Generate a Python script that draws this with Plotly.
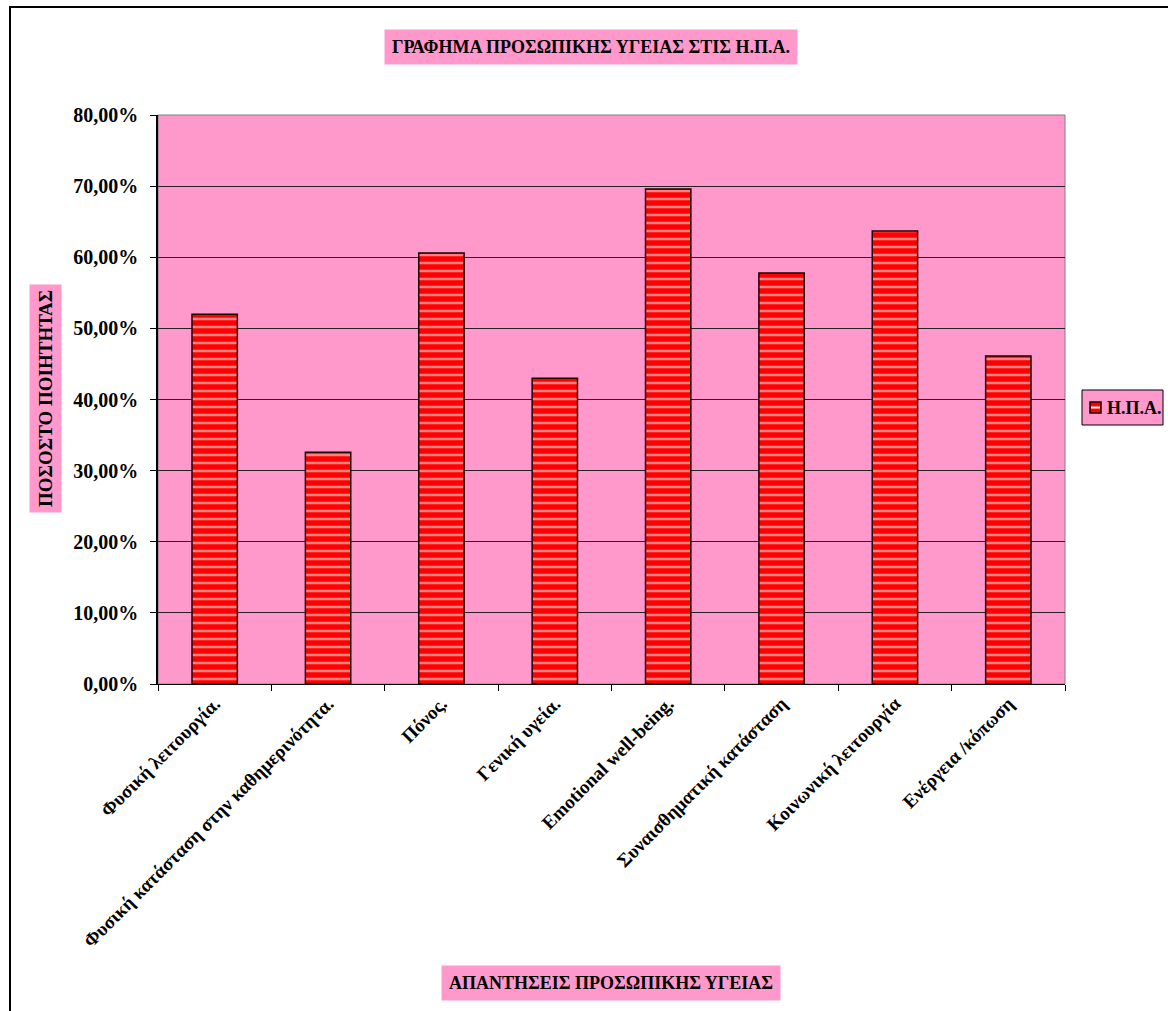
import plotly.graph_objects as go

# Personal health responses (share of quality, USA)
categories = [
    "Φυσική λειτουργία.",
    "Φυσική κατάσταση στην καθημερινότητα.",
    "Πόνος.",
    "Γενική υγεία.",
    "Emotional well-being.",
    "Συναισθηματική κατάσταση",
    "Κοινωνική λειτουργία",
    "Ενέργεια /κόπωση",
]
values = [0.520, 0.326, 0.606, 0.430, 0.696, 0.578, 0.637, 0.461]
series_name = "Η.Π.Α."
y_ticks = [0.0, 0.1, 0.2, 0.3, 0.4, 0.5, 0.6, 0.7, 0.8]

W, H = 1168, 1011
L, R, T, B = 158, 103, 115, 327
PW, PH = W - L - R, H - T - B

PINK = "#FF99CC"
RED = "#FF0000"
SERIF = "Liberation Serif, Times New Roman, serif"


def px_x(x):
    return (x - L) / PW


def px_y(y):
    return (H - B - y) / PH


fig = go.Figure()
fig.add_trace(go.Bar(
    x=categories,
    y=values,
    name=series_name,
    width=0.4,
    marker=dict(
        color=RED,
        line=dict(color="#1a0000", width=1.5),
        pattern=dict(shape="-", fgcolor="white", fillmode="overlay",
                     size=8, solidity=0.32),
    ),
    showlegend=False,
))

fig.update_layout(
    width=W, height=H,
    margin=dict(l=L, r=R, t=T, b=B, autoexpand=False),
    paper_bgcolor="white",
    plot_bgcolor=PINK,
    separators=",.",
    font=dict(family=SERIF, color="black"),
    xaxis=dict(
        type="category",
        tickson="boundaries",
        ticks="outside", ticklen=6, tickcolor="black",
        showgrid=False,
        showline=True, linecolor="black", linewidth=1,
        tickangle=-45,
        tickfont=dict(family=SERIF, size=19, color="black", weight="bold"),
        range=[-0.5, len(categories) - 0.5],
    ),
    yaxis=dict(
        range=[0, 0.8],
        tickvals=y_ticks,
        tickformat=".2%",
        ticks="outside", ticklen=6, tickcolor="black",
        ticklabelstandoff=8,
        showgrid=True, gridcolor="#222222", gridwidth=1,
        showline=True, linecolor="black", linewidth=1.5,
        zeroline=False,
        tickfont=dict(family=SERIF, size=20, color="black", weight="bold"),
    ),
)

# Plot-area frame and outer chart frame
fig.add_shape(type="rect", xref="paper", yref="paper", x0=0, x1=1, y0=0, y1=1,
              line=dict(color="#808080", width=1), layer="below")
fig.add_shape(type="rect", xref="paper", yref="paper",
              x0=px_x(10), x1=px_x(1180), y0=px_y(1020), y1=px_y(7),
              line=dict(color="black", width=2))

# Legend box with a striped swatch for the series
fig.add_shape(type="rect", xref="paper", yref="paper",
              x0=px_x(1082), x1=px_x(1163), y0=px_y(425), y1=px_y(390),
              fillcolor=PINK, line=dict(color="black", width=1))
fig.add_shape(type="rect", xref="paper", yref="paper",
              x0=px_x(1090), x1=px_x(1101), y0=px_y(413), y1=px_y(402),
              fillcolor=RED, line=dict(color="#1a0000", width=1.5))
fig.add_shape(type="line", xref="paper", yref="paper",
              x0=px_x(1091), x1=px_x(1100), y0=px_y(407.5), y1=px_y(407.5),
              line=dict(color="white", width=2))
fig.add_annotation(
    text="<b>" + series_name + "</b>",
    xref="paper", yref="paper", x=px_x(1105), y=px_y(408),
    xanchor="left", yanchor="middle", showarrow=False,
    font=dict(family=SERIF, size=18, color="black"),
)

# Chart title and axis titles in pink boxes
fig.add_annotation(
    text="<b>ΓΡΑΦΗΜΑ ΠΡΟΣΩΠΙΚΗΣ ΥΓΕΙΑΣ ΣΤΙΣ Η.Π.Α.</b>",
    xref="paper", yref="paper", x=px_x(591), y=px_y(47),
    xanchor="center", yanchor="middle",
    showarrow=False, bgcolor=PINK, borderpad=7,
    font=dict(family=SERIF, size=18, color="black"),
)
fig.add_annotation(
    text="<b>ΑΠΑΝΤΗΣΕΙΣ ΠΡΟΣΩΠΙΚΗΣ ΥΓΕΙΑΣ</b>",
    xref="paper", yref="paper", x=px_x(611), y=px_y(983),
    xanchor="center", yanchor="middle",
    showarrow=False, bgcolor=PINK, borderpad=7,
    font=dict(family=SERIF, size=18, color="black"),
)
fig.add_annotation(
    text="<b>ΠΟΣΟΣΤΟ ΠΟΙΗΤΗΤΑΣ</b>",
    xref="paper", yref="paper", x=px_x(45), y=px_y(399),
    xanchor="center", yanchor="middle",
    showarrow=False, bgcolor=PINK, borderpad=5, textangle=-90,
    font=dict(family=SERIF, size=19, color="black"),
)

fig.write_html("out.html")
